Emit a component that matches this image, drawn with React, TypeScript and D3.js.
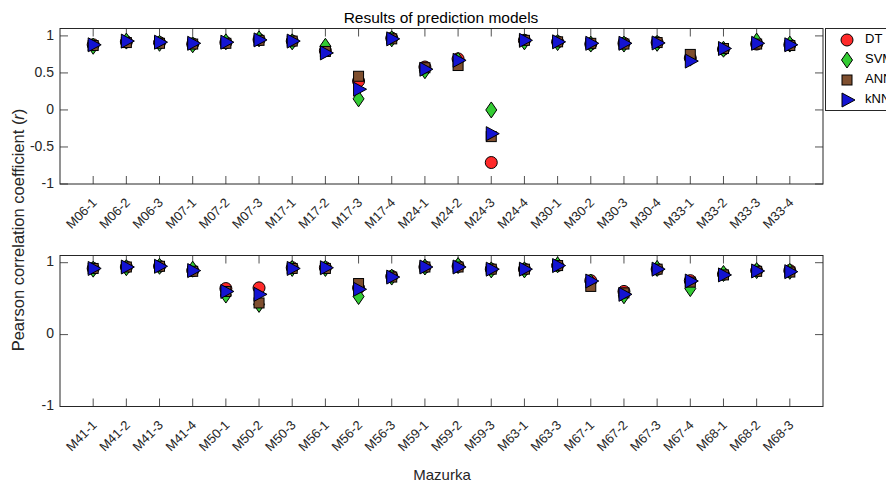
import React from "react";
import * as d3 from "d3";

const topCategories = ["M06-1","M06-2","M06-3","M07-1","M07-2","M07-3","M17-1","M17-2","M17-3","M17-4","M24-1","M24-2","M24-3","M24-4","M30-1","M30-2","M30-3","M30-4","M33-1","M33-2","M33-3","M33-4"];
const bottomCategories = ["M41-1","M41-2","M41-3","M41-4","M50-1","M50-2","M50-3","M56-1","M56-2","M56-3","M59-1","M59-2","M59-3","M63-1","M63-3","M67-1","M67-2","M67-3","M67-4","M68-1","M68-2","M68-3"];

const topDT  = [0.88,0.92,0.91,0.89,0.91,0.95,0.93,0.80,0.39,0.97,0.58,0.69,-0.71,0.94,0.92,0.89,0.90,0.91,0.70,0.82,0.89,0.88];
const topSVM = [0.86,0.93,0.90,0.88,0.92,0.96,0.92,0.86,0.15,0.96,0.53,0.67,0.00,0.92,0.91,0.89,0.89,0.90,0.70,0.82,0.93,0.89];
const topANN = [0.87,0.91,0.90,0.89,0.90,0.94,0.93,0.79,0.455,0.96,0.57,0.60,-0.36,0.94,0.92,0.90,0.89,0.91,0.75,0.83,0.89,0.87];
const topKNN = [0.88,0.93,0.915,0.90,0.915,0.946,0.93,0.77,0.28,0.96,0.55,0.67,-0.32,0.94,0.92,0.90,0.90,0.905,0.66,0.83,0.90,0.88];

const botDT  = [0.92,0.94,0.95,0.89,0.64,0.65,0.93,0.93,0.65,0.81,0.94,0.95,0.91,0.91,0.96,0.75,0.60,0.91,0.75,0.84,0.89,0.89];
const botSVM = [0.91,0.93,0.95,0.91,0.55,0.42,0.92,0.92,0.53,0.80,0.94,0.96,0.90,0.90,0.97,0.73,0.54,0.92,0.64,0.85,0.89,0.88];
const botANN = [0.92,0.94,0.95,0.88,0.60,0.44,0.92,0.92,0.71,0.80,0.94,0.94,0.91,0.91,0.96,0.67,0.58,0.91,0.73,0.83,0.88,0.87];
const botKNN = [0.92,0.94,0.95,0.89,0.60,0.56,0.92,0.93,0.63,0.80,0.94,0.94,0.91,0.91,0.96,0.745,0.56,0.91,0.745,0.83,0.885,0.875];

const yTicksTop = [-1, -0.5, 0, 0.5, 1];
const yTickLabelsTop = ["-1", "-0.5", "0", "0.5", "1"];
const yTicksBot = [-1, 0, 1];
const yTickLabelsBot = ["-1", "0", "1"];

const seriesNames = ["DT", "SVM", "ANN", "kNN"];
const seriesColors = ["#ff2a2a", "#33cc33", "#7f4f2f", "#1414d2"];
const seriesShapes = ["circle", "diamond", "square", "triangle"];

const FONT = "'Liberation Sans', Arial, Helvetica, sans-serif";
const AX = "#262626";

function Marker({ shape, x, y, fill }: { shape: string; x: number; y: number; fill: string }) {
  const s = { fill, stroke: "#000", strokeWidth: 1 };
  if (shape === "circle") return <circle cx={x} cy={y} r={6} {...s} />;
  if (shape === "diamond")
    return <polygon points={`${x},${y - 8} ${x + 5.5},${y} ${x},${y + 8} ${x - 5.5},${y}`} {...s} />;
  if (shape === "square") return <rect x={x - 5} y={y - 5} width={10} height={10} {...s} />;
  return <polygon points={`${x - 5},${y - 7} ${x + 8},${y} ${x - 5},${y + 7}`} {...s} />;
}

function Panel({ top, bottom, cats, series, yTicks, yLabels }: any) {
  const left = 60, right = 823;
  const x = d3.scaleLinear().domain([0, cats.length + 1]).range([left, right]);
  const y = d3.scaleLinear().domain([-1, 1.1]).range([bottom, top]);
  const tl = 8;
  return (
    <g>
      {cats.map((c: string, i: number) => {
        const xp = x(i + 1);
        return (
          <g key={c}>
            <line x1={xp} x2={xp} y1={bottom} y2={bottom - tl} stroke={AX} strokeWidth={0.8} />
            <line x1={xp} x2={xp} y1={top} y2={top + tl} stroke={AX} strokeWidth={0.8} />
            <text
              transform={`translate(${xp + 2},${bottom + 17}) rotate(-45)`}
              textAnchor="end"
              dominantBaseline="middle"
              fontSize={13}
              fill={AX}
              fontFamily={FONT}
            >
              {c}
            </text>
          </g>
        );
      })}
      {yTicks.map((t: number, i: number) => (
        <g key={t}>
          <line x1={left} x2={left + tl} y1={y(t)} y2={y(t)} stroke={AX} strokeWidth={0.8} />
          <line x1={right} x2={right - tl} y1={y(t)} y2={y(t)} stroke={AX} strokeWidth={0.8} />
          <text x={left - 6} y={y(t)} textAnchor="end" dominantBaseline="middle" fontSize={14} fill={AX} fontFamily={FONT}>
            {yLabels[i]}
          </text>
        </g>
      ))}
      <rect x={left} y={top} width={right - left} height={bottom - top} fill="none" stroke={AX} strokeWidth={1} />
      {series.map((vals: number[], si: number) =>
        vals.map((v, i) => (
          <Marker key={`${si}-${i}`} shape={seriesShapes[si]} x={x(i + 1)} y={y(v)} fill={seriesColors[si]} />
        ))
      )}
    </g>
  );
}

export default function App() {
  return (
    <svg width={886} height={484} style={{ position: "absolute", left: 0, top: 0, background: "#fff" }}>
      <rect width={886} height={484} fill="#fff" />
      <text x={441} y={23} textAnchor="middle" fontSize={15.5} fill="#000" fontFamily={FONT}>
        Results of prediction models
      </text>
      <Panel top={28.5} bottom={184} cats={topCategories} series={[topDT, topSVM, topANN, topKNN]} yTicks={yTicksTop} yLabels={yTickLabelsTop} />
      <Panel top={255.5} bottom={406.5} cats={bottomCategories} series={[botDT, botSVM, botANN, botKNN]} yTicks={yTicksBot} yLabels={yTickLabelsBot} />
      <text transform="translate(24,230) rotate(-90)" textAnchor="middle" fontSize={16.5} fill={AX} fontFamily={FONT}>
        Pearson correlation coefficient (<tspan fontStyle="italic">r</tspan>)
      </text>
      <text x={442} y={480} textAnchor="middle" fontSize={15} fill={AX} fontFamily={FONT}>
        Mazurka
      </text>
      <g>
        <rect x={825.5} y={28.5} width={80} height={82} fill="#fff" stroke={AX} strokeWidth={1} />
        {seriesNames.map((n, i) => {
          const ly = 40 + i * 20;
          return (
            <g key={n}>
              <Marker shape={seriesShapes[i]} x={847} y={ly} fill={seriesColors[i]} />
              <text x={865} y={ly} dominantBaseline="middle" fontSize={13} fill="#000" fontFamily={FONT}>
                {n}
              </text>
            </g>
          );
        })}
      </g>
    </svg>
  );
}
